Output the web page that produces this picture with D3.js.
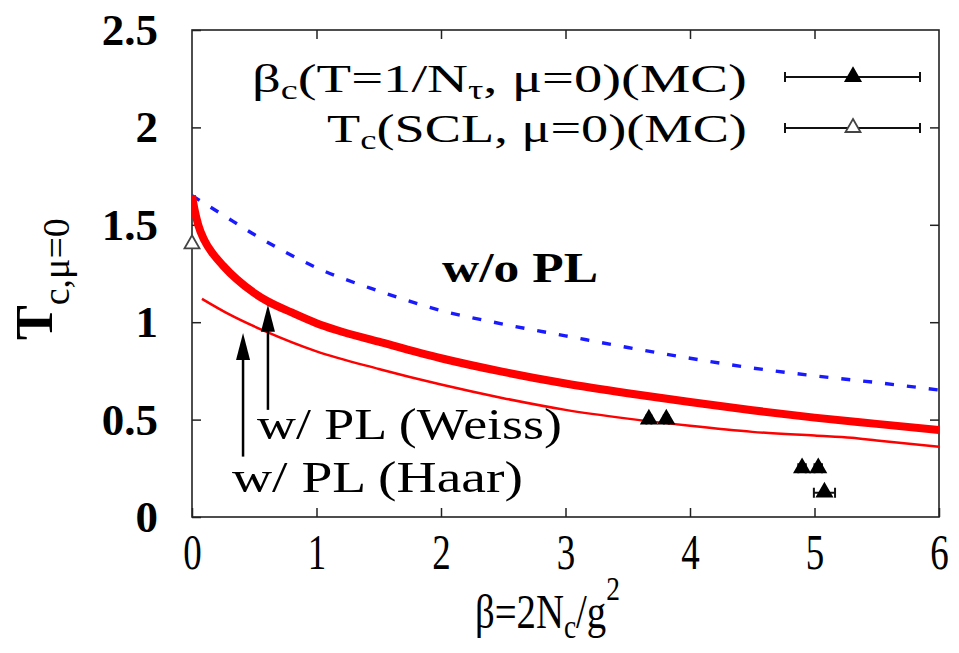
<!DOCTYPE html>
<html>
<head>
<meta charset="utf-8">
<script src="https://cdn.jsdelivr.net/npm/d3@7"></script>
<style>
body{margin:0;background:#fff;}
text{font-family:"Liberation Serif","Times New Roman",serif;fill:#000;}
</style>
</head>
<body>
<div id="chart"></div>
<script>
// curves
let betaWo=[0,0.25,0.5,0.75,1,1.5,2,2.5,3,3.5,4,4.5,5,5.5,6];
let tWo=[1.65,1.55,1.45,1.36,1.28,1.16,1.06,0.99,0.93,0.87,0.815,0.765,0.725,0.69,0.652];
let betaWeiss=[0,0.02,0.05,0.1,0.17,0.25,0.36,0.5,0.6,0.8,1,1.16,1.5,2,2.5,3,3.5,4,4.5,5,5.5,6];
let tWeiss=[1.65,1.58,1.50,1.42,1.35,1.29,1.22,1.15,1.11,1.05,0.995,0.96,0.90,0.815,0.745,0.685,0.635,0.59,0.548,0.51,0.478,0.447];
let betaHaar=[0.08,0.3,0.6,1,1.5,2,2.5,3,3.5,4,4.5,5,5.3,5.5,6];
let tHaar=[1.12,1.04,0.95,0.85,0.76,0.68,0.61,0.55,0.505,0.468,0.437,0.418,0.407,0.393,0.36];
// MC points (beta_c, T=1/N_tau) with beta errors
let mcBeta=[3.67,3.81,4.90,5.03,5.08];
let mcT=[0.5,0.5,0.25,0.25,0.125];
let mcErr=[0.02,0.02,0.03,0.03,0.085];
// strong coupling point
let sclBeta=[0];
let sclT=[1.4];
let sclErr=[0];
let xTicks=[0,1,2,3,4,5,6];
let yTicks=[0,0.5,1,1.5,2,2.5];
// arrows [beta, from T, to T]
let arrowHaar=[0.41,0.31,0.945];
let arrowWeiss=[0.61,0.55,1.09];

let width=959, height=653;
let svg=d3.select("#chart").append("svg")
  .attr("width",width).attr("height",height);

let x=d3.scaleLinear().domain([0,6]).range([192,939]);
let y=d3.scaleLinear().domain([0,2.5]).range([517,30]);

svg.append("clipPath").attr("id","clip").append("rect")
  .attr("x",192).attr("y",30).attr("width",747).attr("height",487);

// axes, ticks inward like gnuplot
let xAxis=d3.axisBottom(x).tickValues(xTicks).tickSize(-9).tickPadding(15).tickFormat(d=>d);
let gx=svg.append("g").attr("transform","translate(0,517)").call(xAxis);
gx.selectAll("text").attr("font-size",50).attr("dy","0.74em")
  .attr("transform","scale(0.74,1)");

let gTop=svg.append("g").attr("transform","translate(0,30)")
  .call(d3.axisTop(x).tickValues(xTicks.slice(1,-1)).tickSize(-9).tickFormat(""));

let yAxis=d3.axisLeft(y).tickValues(yTicks).tickSize(-9).tickPadding(34).tickFormat(d=>d);
let gy=svg.append("g").attr("transform","translate(192,0)").call(yAxis);
gy.selectAll("text").attr("font-size",45).attr("font-weight","bold");

let gRight=svg.append("g").attr("transform","translate(939,0)")
  .call(d3.axisRight(y).tickValues(yTicks.slice(1,-1)).tickSize(-9).tickFormat(""));

[gx,gTop,gy,gRight].forEach(g=>{
  g.select(".domain").remove();
  g.selectAll("line").attr("stroke","#222").attr("stroke-width",1.5);
});
svg.append("rect").attr("x",192).attr("y",30).attr("width",747).attr("height",487)
  .attr("fill","none").attr("stroke","#222").attr("stroke-width",1.6);

// curves
let plot=svg.append("g").attr("clip-path","url(#clip)");
let line=d3.line().x(d=>x(d[0])).y(d=>y(d[1])).curve(d3.curveMonotoneX);

plot.append("path").datum(d3.zip(betaWo,tWo)).attr("d",line)
  .attr("fill","none").attr("stroke","#1a1aff").attr("stroke-width",3.4)
  .attr("stroke-dasharray","9,13");
plot.append("path").datum(d3.zip(betaWeiss,tWeiss)).attr("d",line)
  .attr("fill","none").attr("stroke","#ff0000").attr("stroke-width",8);
plot.append("path").datum(d3.zip(betaHaar,tHaar)).attr("d",line)
  .attr("fill","none").attr("stroke","#ff0000").attr("stroke-width",2.5);

// points with error bars
let tri="M0,-9L7.5,4L-7.5,4Z";
function points(bs,ts,es,fill){
  let g=svg.append("g");
  bs.forEach((b,i)=>{
    let py=y(ts[i]);
    if(es[i]>0){
      g.append("path")
        .attr("d","M"+x(b-es[i])+","+py+"H"+x(b+es[i])
          +"M"+x(b-es[i])+","+(py-5)+"v10M"+x(b+es[i])+","+(py-5)+"v10")
        .attr("stroke","#111").attr("stroke-width",2).attr("fill","none");
    }
    g.append("path").attr("d",tri).attr("transform","translate("+x(b)+","+py+")")
      .attr("fill",fill).attr("stroke",fill=="#000"?"#000":"#444").attr("stroke-width",1.8);
  });
}
points(mcBeta,mcT,mcErr,"#000");
points(sclBeta,sclT,sclErr,"#fff");

// arrows
function arrow(a){
  let ax=x(a[0]), y0=y(a[1]), y1=y(a[2]);
  svg.append("line").attr("x1",ax).attr("x2",ax).attr("y1",y0).attr("y2",y1+20)
    .attr("stroke","#000").attr("stroke-width",2.5);
  svg.append("path").attr("d","M"+ax+","+y1+"L"+(ax+7)+","+(y1+27)+"L"+(ax-7)+","+(y1+27)+"Z")
    .attr("fill","#000");
}
arrow(arrowHaar);
arrow(arrowWeiss);

// squeeze a text element to a given width starting at x0, baseline yb
function fit(build,x0,yb,w){
  let g=svg.append("g");
  let t=g.append("text");
  build(t);
  let bb=t.node().getBBox();
  let sx=w/bb.width;
  g.attr("transform","translate("+(x0-bb.x*sx)+","+yb+") scale("+sx+",1)");
  return t;
}
function sub(t,s,fs,d){
  t.append("tspan").attr("dy",d).attr("font-size",fs).text(s);
  return t;
}

// curve labels
fit(t=>t.attr("font-size",42).attr("font-weight","bold").text("w/o PL"),442,282,156);
fit(t=>t.attr("font-size",44).text("w/ PL (Weiss)"),257,439,305);
fit(t=>t.attr("font-size",44).text("w/ PL (Haar)"),232,492,291);

// legend
fit(t=>{
  t.attr("font-size",40);
  t.append("tspan").text("β");
  sub(t,"c",27,7);
  t.append("tspan").attr("dy",-7).text("(T=1/N");
  sub(t,"τ",27,7);
  t.append("tspan").attr("dy",-7).text(", μ=0)(MC)");
},252,92,495);
fit(t=>{
  t.attr("font-size",40);
  t.append("tspan").text("T");
  sub(t,"c",27,7);
  t.append("tspan").attr("dy",-7).text("(SCL, μ=0)(MC)");
},327,142,420);

let legRows=[[77,"#000"],[128,"#fff"]];
legRows.forEach(r=>{
  svg.append("path").attr("d","M785,"+r[0]+"H920M785,"+(r[0]-5)+"v10M920,"+(r[0]-5)+"v10")
    .attr("stroke","#111").attr("stroke-width",2).attr("fill","none");
  svg.append("path").attr("d",tri).attr("transform","translate(853,"+r[0]+")")
    .attr("fill",r[1]).attr("stroke",r[1]=="#000"?"#000":"#444").attr("stroke-width",1.8);
});

// axis titles
fit(t=>{
  t.attr("font-size",48);
  t.append("tspan").text("β=2N");
  sub(t,"c",34,10);
  t.append("tspan").attr("dy",-10).text("/g");
  sub(t,"2",34,-28);
},475,628,145);

let yt=svg.append("text").attr("transform","translate(52,340) rotate(-90)");
yt.append("tspan").attr("font-size",52).attr("font-weight","bold").text("T");
sub(yt,"c,μ=0",38,17);
</script>
</body>
</html>
